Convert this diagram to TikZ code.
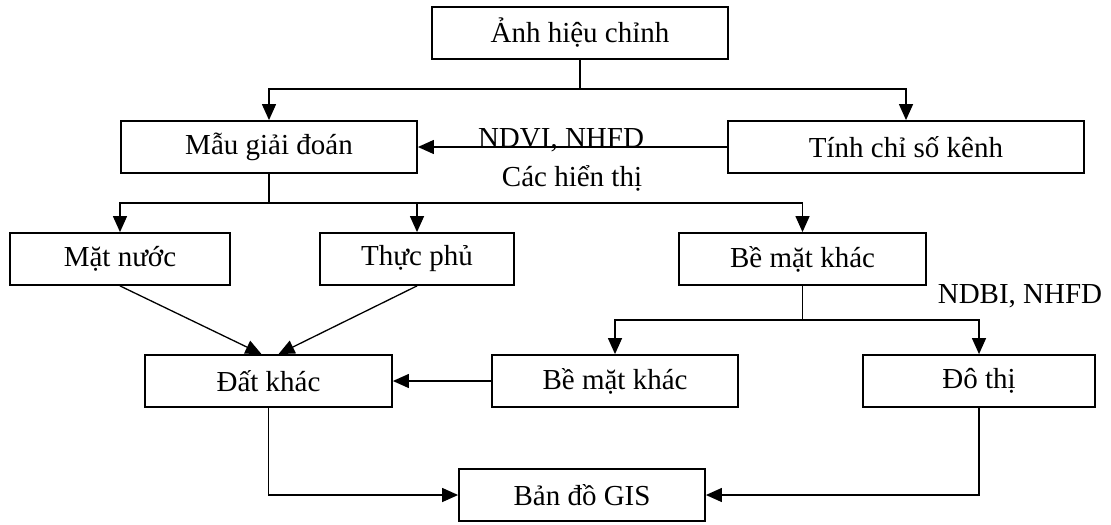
\documentclass[tikz,border=0pt]{standalone}
\usepackage{fontspec}
\setmainfont{Liberation Serif}
\usetikzlibrary{positioning,arrows.meta}

\begin{document}
\begin{tikzpicture}[
    x=0.5pt, y=-0.5pt,
    box/.style={draw, line width=0.9pt, minimum height=26pt, inner sep=0pt, align=center, font=\fontsize{14.5}{17}\selectfont},
    lbl/.style={inner sep=0pt, anchor=base, font=\fontsize{14.5}{17}\selectfont},
    arr/.style={-{Triangle[length=8pt,width=7pt]}, line width=0.65pt},
    ln/.style={line width=0.65pt},
]
    \useasboundingbox (0,0) rectangle (1111,524);

    \node[box, minimum width=148pt] (anh) at (580,33) {Ảnh hiệu chỉnh};
    \node[box, minimum width=148pt] (mau) at (269,147) {Mẫu giải đoán};
    \node[box, minimum width=178pt] (tinh) at (906,147) {Tính chỉ số kênh};
    \node[box, minimum width=110pt] (matnuoc) at (120,259) {Mặt nước};
    \node[box, minimum width=97pt] (thucphu) at (417,259) {Thực phủ};
    \node[box, minimum width=123.5pt] (bematA) at (802.5,259) {Bề mặt khác};
    \node[box, minimum width=123.5pt] (datkhac) at (268.5,381) {Đất khác};
    \node[box, minimum width=123pt] (bematB) at (615,381) {Bề mặt khác};
    \node[box, minimum width=116pt] (dothi) at (979,381) {Đô thị};
    \node[box, minimum width=123pt] (bando) at (582,495) {Bản đồ GIS};

    \node[lbl] (ndvi) at (561,147) {NDVI, NHFD};
    \node[lbl] (hienthi) at (572,186) {Các hiển thị};
    \node[lbl] (ndbi) at (1020,303) {NDBI, NHFD};

    \coordinate (j1) at (580,89);
    \coordinate (j2) at (269,203);
    \coordinate (j3) at (802.5,320);

    \draw[ln] (anh) -- (j1);
    \draw[arr] (j1) -| (mau);
    \draw[arr] (j1) -| (tinh);
    \draw[arr] (tinh) -- (mau);

    \draw[ln] (mau) -- (j2);
    \draw[arr] (j2) -| (matnuoc);
    \draw[arr] (j2) -| (thucphu);
    \draw[arr] (j2) -| (bematA);

    \draw[arr] (matnuoc.south) -- ([xshift=-3.5pt]datkhac.north);
    \draw[arr] (thucphu.south) -- ([xshift=5pt]datkhac.north);

    \draw[ln] (bematA) -- (j3);
    \draw[arr] (j3) -| (bematB);
    \draw[arr] (j3) -| (dothi);
    \draw[arr] (bematB) -- (datkhac);

    \draw[arr] (datkhac) |- (bando);
    \draw[arr] (dothi) |- (bando);
\end{tikzpicture}
\end{document}
